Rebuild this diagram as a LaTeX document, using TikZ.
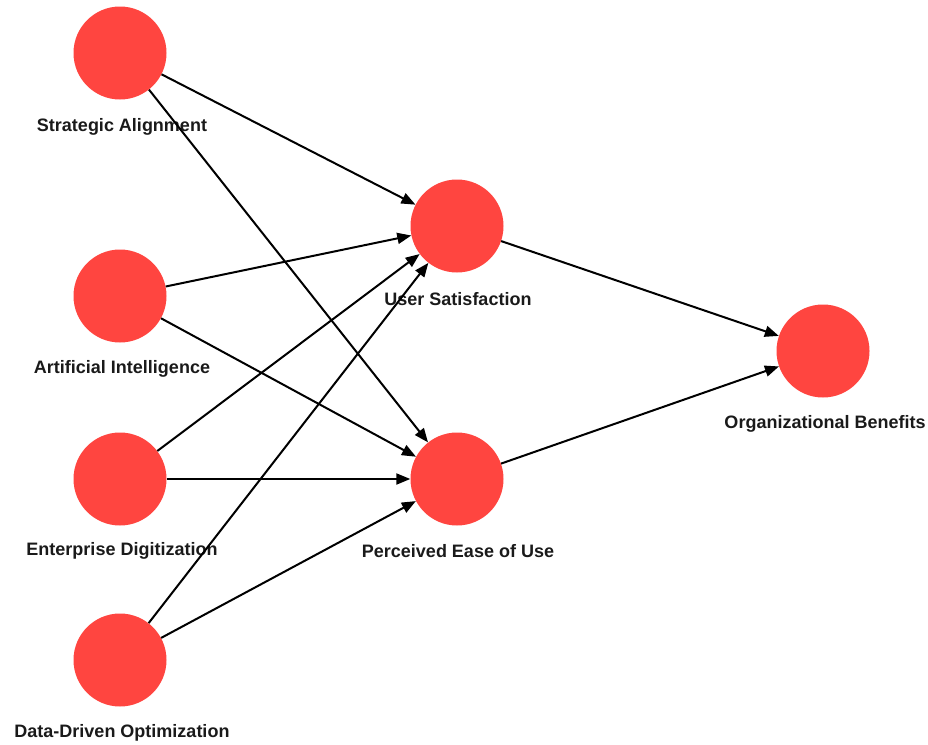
\documentclass[tikz,border=0pt]{standalone}
\usepackage{fontspec}
\setmainfont{Liberation Sans}
\usetikzlibrary{positioning,arrows.meta,calc}
\definecolor{nodeRed}{HTML}{FF4540}
\definecolor{inkBlack}{HTML}{1a1a1a}

\begin{document}
\begin{tikzpicture}[x=1pt,y=-1pt,
  construct/.style={circle,fill=nodeRed,draw=none,minimum size=93pt,inner sep=0pt},
  caption/.style={text=inkBlack,font=\fontsize{18}{20}\selectfont\bfseries,inner sep=0pt},
  path/.style={draw=black,line width=2pt,-{Triangle[length=14pt,width=11pt]}}]
\useasboundingbox (0,0) rectangle (928,744);

% constructs
\node[construct] (sa)  at (120,53)  {};
\node[construct] (ai)  at (120,296) {};
\node[construct] (ed)  at (120,479) {};
\node[construct] (ddo) at (120,660) {};
\node[construct] (us)  at (457,226) {};
\node[construct] (peu) at (457,479) {};
\node[construct] (ob)  at (823,351) {};

% captions
\node[caption] (saLbl)  at ($(sa.center)+(2,74)$)  {Strategic Alignment};
\node[caption] (aiLbl)  at ($(ai.center)+(2,73)$)  {Artificial Intelligence};
\node[caption] (edLbl)  at ($(ed.center)+(2,72)$)  {Enterprise Digitization};
\node[caption] (ddoLbl) at ($(ddo.center)+(2,73)$) {Data-Driven Optimization};
\node[caption] (usLbl)  at ($(us.center)+(1,73)$)  {User Satisfaction};
\node[caption] (peuLbl) at ($(peu.center)+(1,72)$) {Perceived Ease of Use};
\node[caption] (obLbl)  at ($(ob.center)+(2,73)$)  {Organizational Benefits};

% paths
\foreach \src in {sa,ai,ed,ddo} {
  \draw[path] (\src) -- (us);
  \draw[path] (\src) -- (peu);
}
\draw[path] (us) -- (ob);
\draw[path] (peu) -- (ob);
\end{tikzpicture}
\end{document}
